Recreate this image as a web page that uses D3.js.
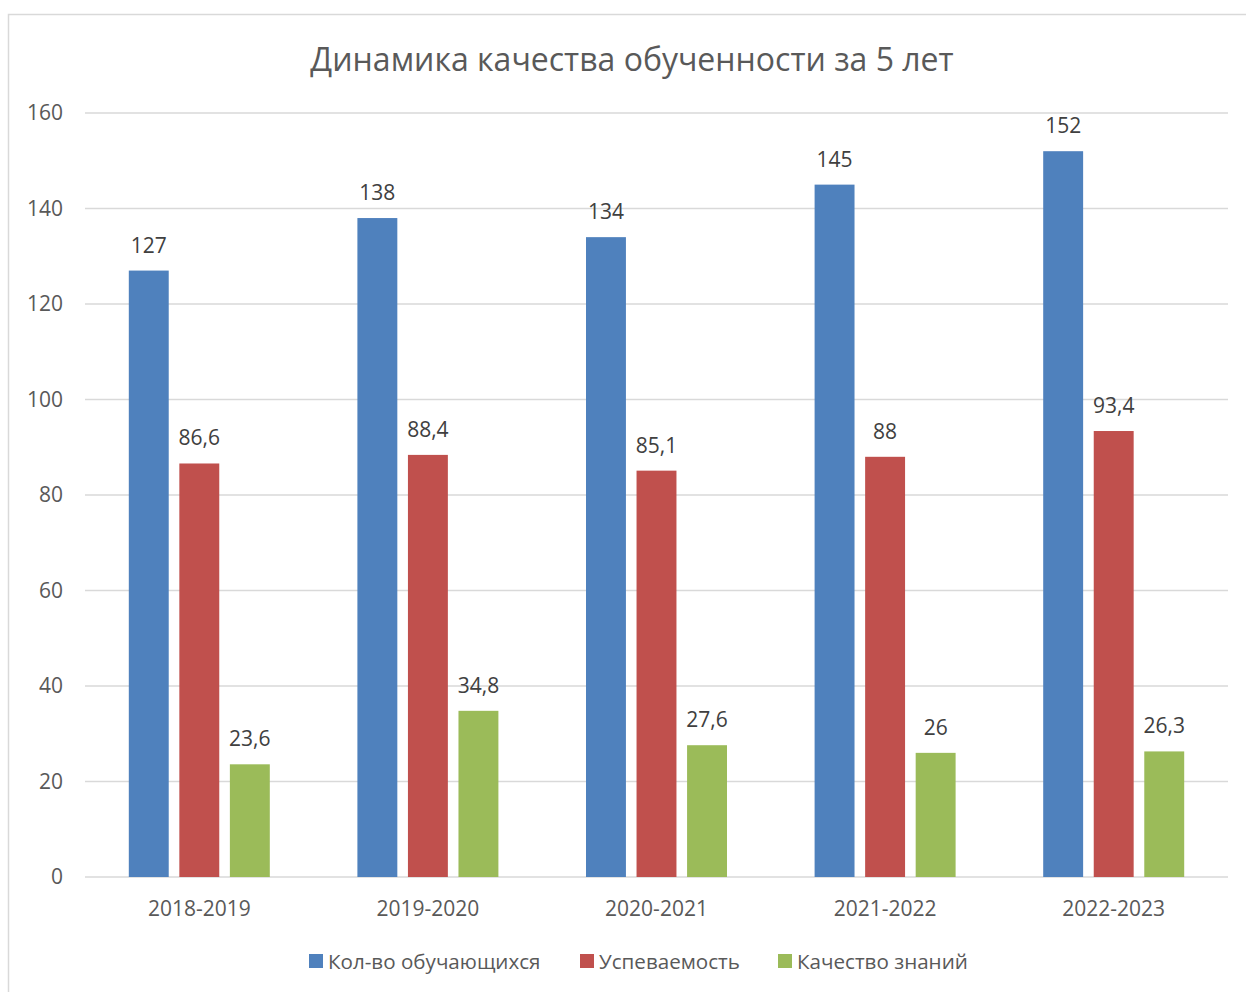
<!DOCTYPE html>
<html>
<head>
<meta charset="utf-8">
<script src="https://cdn.jsdelivr.net/npm/d3@7"></script>
<style>
  body { margin: 0; background: #fff; }
  text { font-family: "Open Sans", "Noto Sans", sans-serif; }
</style>
</head>
<body>
<div id="chart"></div>
<script>
var years = ["2018-2019", "2019-2020", "2020-2021", "2021-2022", "2022-2023"];
var seriesNames = ["Кол-во обучающихся", "Успеваемость", "Качество знаний"];
var students = [127, 138, 134, 145, 152];
var progress = [86.6, 88.4, 85.1, 88, 93.4];
var quality = [23.6, 34.8, 27.6, 26, 26.3];
var yTicks = [0, 20, 40, 60, 80, 100, 120, 140, 160];
var colors = ["#4f81bd", "#c0504d", "#9bbb59"];

var W = 1246, H = 992;
var margin = { top: 113, bottom: 115, left: 85, right: 18 };
var width = W - margin.left - margin.right;
var height = H - margin.top - margin.bottom;

var svg = d3.select("#chart").append("svg")
  .attr("width", W)
  .attr("height", H);

// рамка
svg.append("rect")
  .attr("x", 8.5).attr("y", 14.5)
  .attr("width", W + 10).attr("height", H + 10)
  .attr("fill", "none")
  .attr("stroke", "#d9d9d9")
  .attr("stroke-width", 1.5);

svg.append("text")
  .attr("x", 632).attr("y", 71)
  .attr("text-anchor", "middle")
  .attr("font-size", 32)
  .attr("fill", "#595959")
  .text("Динамика качества обученности за 5 лет");

var g = svg.append("g").attr("transform", `translate(${margin.left},${margin.top})`);

var x0 = d3.scaleBand().domain(years).range([0, width]).paddingInner(0).paddingOuter(0);
var x1 = d3.scaleBand().domain(d3.range(3)).range([43.8, x0.bandwidth() - 43.8]).paddingInner(0.21);
var y = d3.scaleLinear().domain([0, 160]).range([height, 0]);

// сетка
g.append("g")
  .selectAll("line")
  .data(yTicks)
  .join("line")
  .attr("x1", 0).attr("x2", width)
  .attr("y1", d => y(d)).attr("y2", d => y(d))
  .attr("stroke", "#d9d9d9")
  .attr("stroke-width", 1.5);

var yaxis = d3.axisLeft(y).tickValues(yTicks).tickSize(0).tickPadding(22);
var g_yaxis = g.append("g").call(yaxis);
g_yaxis.select(".domain").remove();
g_yaxis.selectAll("text").attr("font-size", 21).attr("fill", "#595959").attr("font-family", "Open Sans");

var xaxis = d3.axisBottom(x0).tickSize(0).tickPadding(24);
var g_xaxis = g.append("g").attr("transform", `translate(0,${height})`).call(xaxis);
g_xaxis.select(".domain").remove();
g_xaxis.selectAll("text").attr("font-size", 21).attr("fill", "#595959").attr("font-family", "Open Sans");

var series = [students, progress, quality];
var rows = [];
years.forEach(function(yr, i) {
  series.forEach(function(s, j) {
    rows.push({ year: yr, k: j, v: s[i] });
  });
});

var bars = g.selectAll(".bar")
  .data(rows)
  .join("rect")
  .attr("class", "bar")
  .attr("x", d => x0(d.year) + x1(d.k))
  .attr("y", d => y(d.v))
  .attr("width", x1.bandwidth())
  .attr("height", d => height - y(d.v))
  .attr("fill", d => colors[d.k]);

g.selectAll(".textLabels")
  .data(rows)
  .join("text")
  .attr("class", "textLabels")
  .attr("x", d => x0(d.year) + x1(d.k) + x1.bandwidth() / 2)
  .attr("y", d => y(d.v) - 18)
  .attr("text-anchor", "middle")
  .attr("font-size", 21)
  .attr("fill", "#404040")
  .text(d => String(d.v).replace(".", ","));

// легенда
var legendX = [309, 580, 778];
var legend = svg.append("g")
  .selectAll("g")
  .data(seriesNames)
  .join("g")
  .attr("transform", (d, i) => `translate(${legendX[i]},954)`);
legend.append("rect")
  .attr("width", 14).attr("height", 14)
  .attr("fill", (d, i) => colors[i]);
legend.append("text")
  .attr("x", 19).attr("y", 14.5)
  .attr("font-size", 20.6)
  .attr("fill", "#595959")
  .text(d => d);
</script>
</body>
</html>
